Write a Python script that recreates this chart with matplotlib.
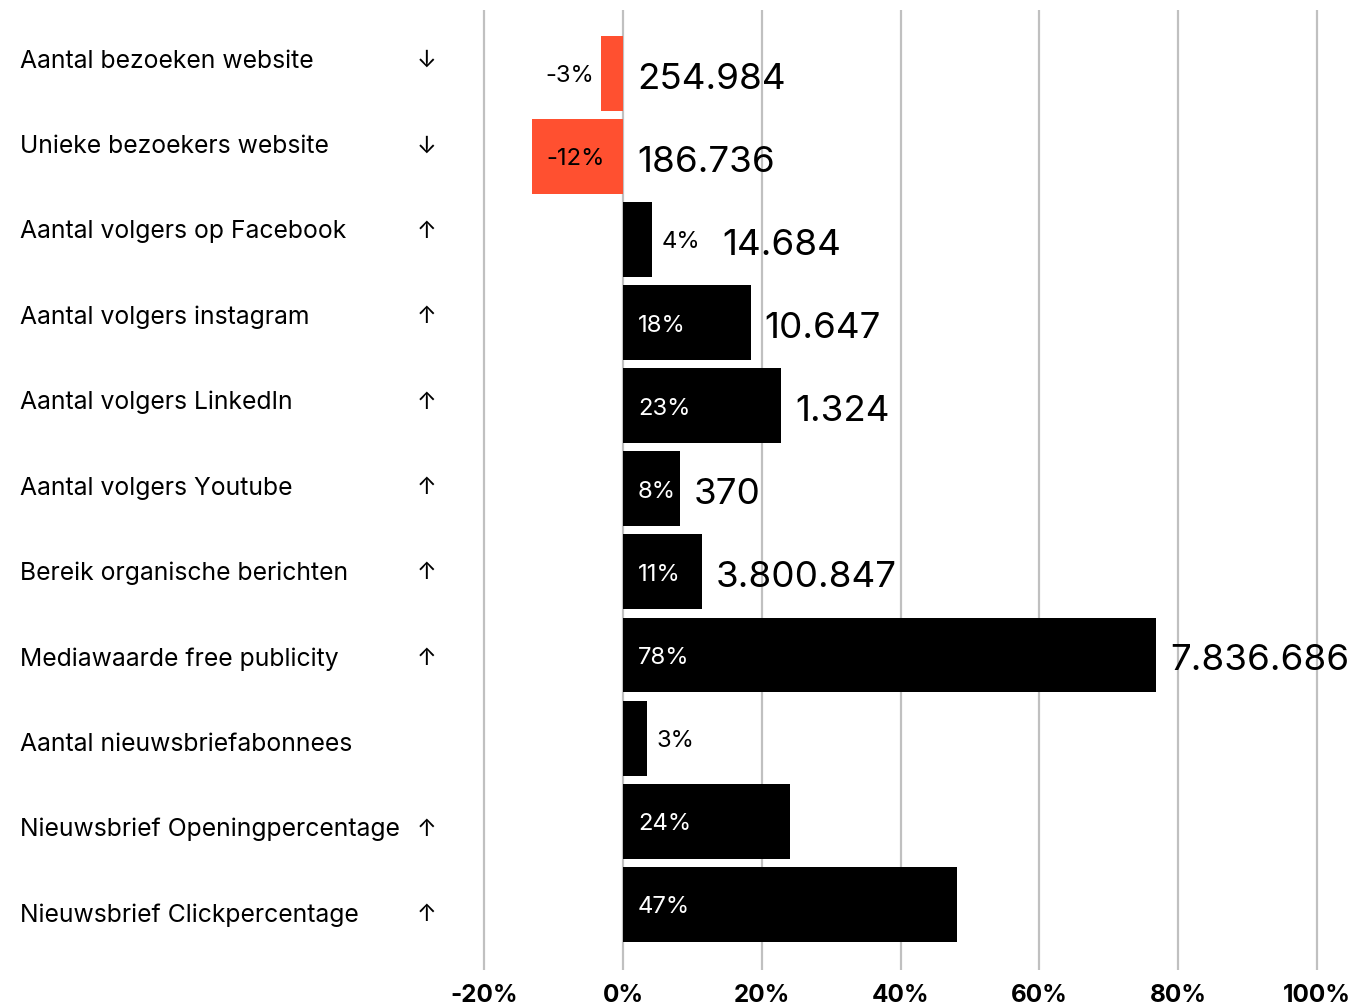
import numpy as np
import matplotlib
matplotlib.use("Agg")
import matplotlib.pyplot as plt

plt.rcParams['font.family'] = ['Inter', 'DejaVu Sans']

# data
categories = [
    "Aantal bezoeken website",
    "Unieke bezoekers website",
    "Aantal volgers op Facebook",
    "Aantal volgers instagram",
    "Aantal volgers LinkedIn",
    "Aantal volgers Youtube",
    "Bereik organische berichten",
    "Mediawaarde free publicity",
    "Aantal nieuwsbriefabonnees",
    "Nieuwsbrief Openingpercentage",
    "Nieuwsbrief Clickpercentage",
]
arrows = ["↓", "↓", "↑", "↑", "↑", "↑", "↑", "↑", "", "↑", "↑"]
change = [-3.1, -13.1, 4.2, 18.4, 22.8, 8.2, 11.4, 76.8, 3.5, 24.1, 48.1]
change_labels = ["-3%", "-12%", "4%", "18%", "23%", "8%", "11%", "78%", "3%", "24%", "47%"]
totals = ["254.984", "186.736", "14.684", "10.647", "1.324", "370", "3.800.847",
          "7.836.686", "", "", ""]
ticks = [-20, 0, 20, 40, 60, 80, 100]

RED = "#FF5030"

W, H = 1350, 1008
fig = plt.figure(figsize=(W / 100, H / 100), dpi=100)
ax = fig.add_axes([440 / W, 38 / H, (1350 - 440) / W, (970 - 10) / H])

ypos = np.arange(len(categories))
colors = [RED if v < 0 else "black" for v in change]
ax.barh(ypos, change, height=0.9, color=colors, zorder=2)

ax.set_xlim(-26.37, 104.76)
ax.set_ylim(10.79, -0.76)
ax.set_xticks(ticks)
ax.set_xticklabels([f"{t}%" for t in ticks], fontsize=17.5, fontweight="bold")
ax.tick_params(axis="x", length=0, pad=10)
ax.set_yticks([])
for s in ax.spines.values():
    s.set_visible(False)
ax.grid(axis="x", color="#c0c0c0", linewidth=1.6, zorder=0)

px = 72 / 100  # points per pixel
pct_size = 17.2
for i, (v, lab, tot) in enumerate(zip(change, change_labels, totals)):
    dy = -3 * px
    if v < 0 and v > -6:
        # small negative: label left of bar
        ax.annotate(lab, (v, i), xytext=(-7 * px, dy), textcoords="offset points",
                    ha="right", va="center", fontsize=pct_size, color="black")
        outside = False
    elif v < 0:
        ax.annotate(lab, (v / 2, i), xytext=(-2 * px, dy), textcoords="offset points",
                    ha="center", va="center", fontsize=pct_size, color="black")
        outside = False
    elif v < 6:
        ax.annotate(lab, (v, i), xytext=(9 * px, dy), textcoords="offset points",
                    ha="left", va="center", fontsize=pct_size, color="black")
        outside = True
    else:
        ax.annotate(lab, (0, i), xytext=(15 * px, dy), textcoords="offset points",
                    ha="left", va="center", fontsize=pct_size, color="white")
        outside = False
    if tot:
        off = 70 if outside else 14
        ax.annotate(tot, (max(v, 0), i), xytext=(off * px, -6 * px),
                    textcoords="offset points", ha="left", va="center",
                    fontsize=26.5, color="black", annotation_clip=False)

# category labels and arrows on the left
label_y = np.linspace(61, 915, len(categories))
for cat, arr, yy in zip(categories, arrows, label_y):
    fig.text(20 / W, 1 - yy / H, cat, ha="left", va="center", fontsize=17.8)
    if arr:
        fig.text(427 / W, 1 - yy / H, arr, ha="center", va="center", fontsize=17)

fig.savefig("out.png", dpi=100)
